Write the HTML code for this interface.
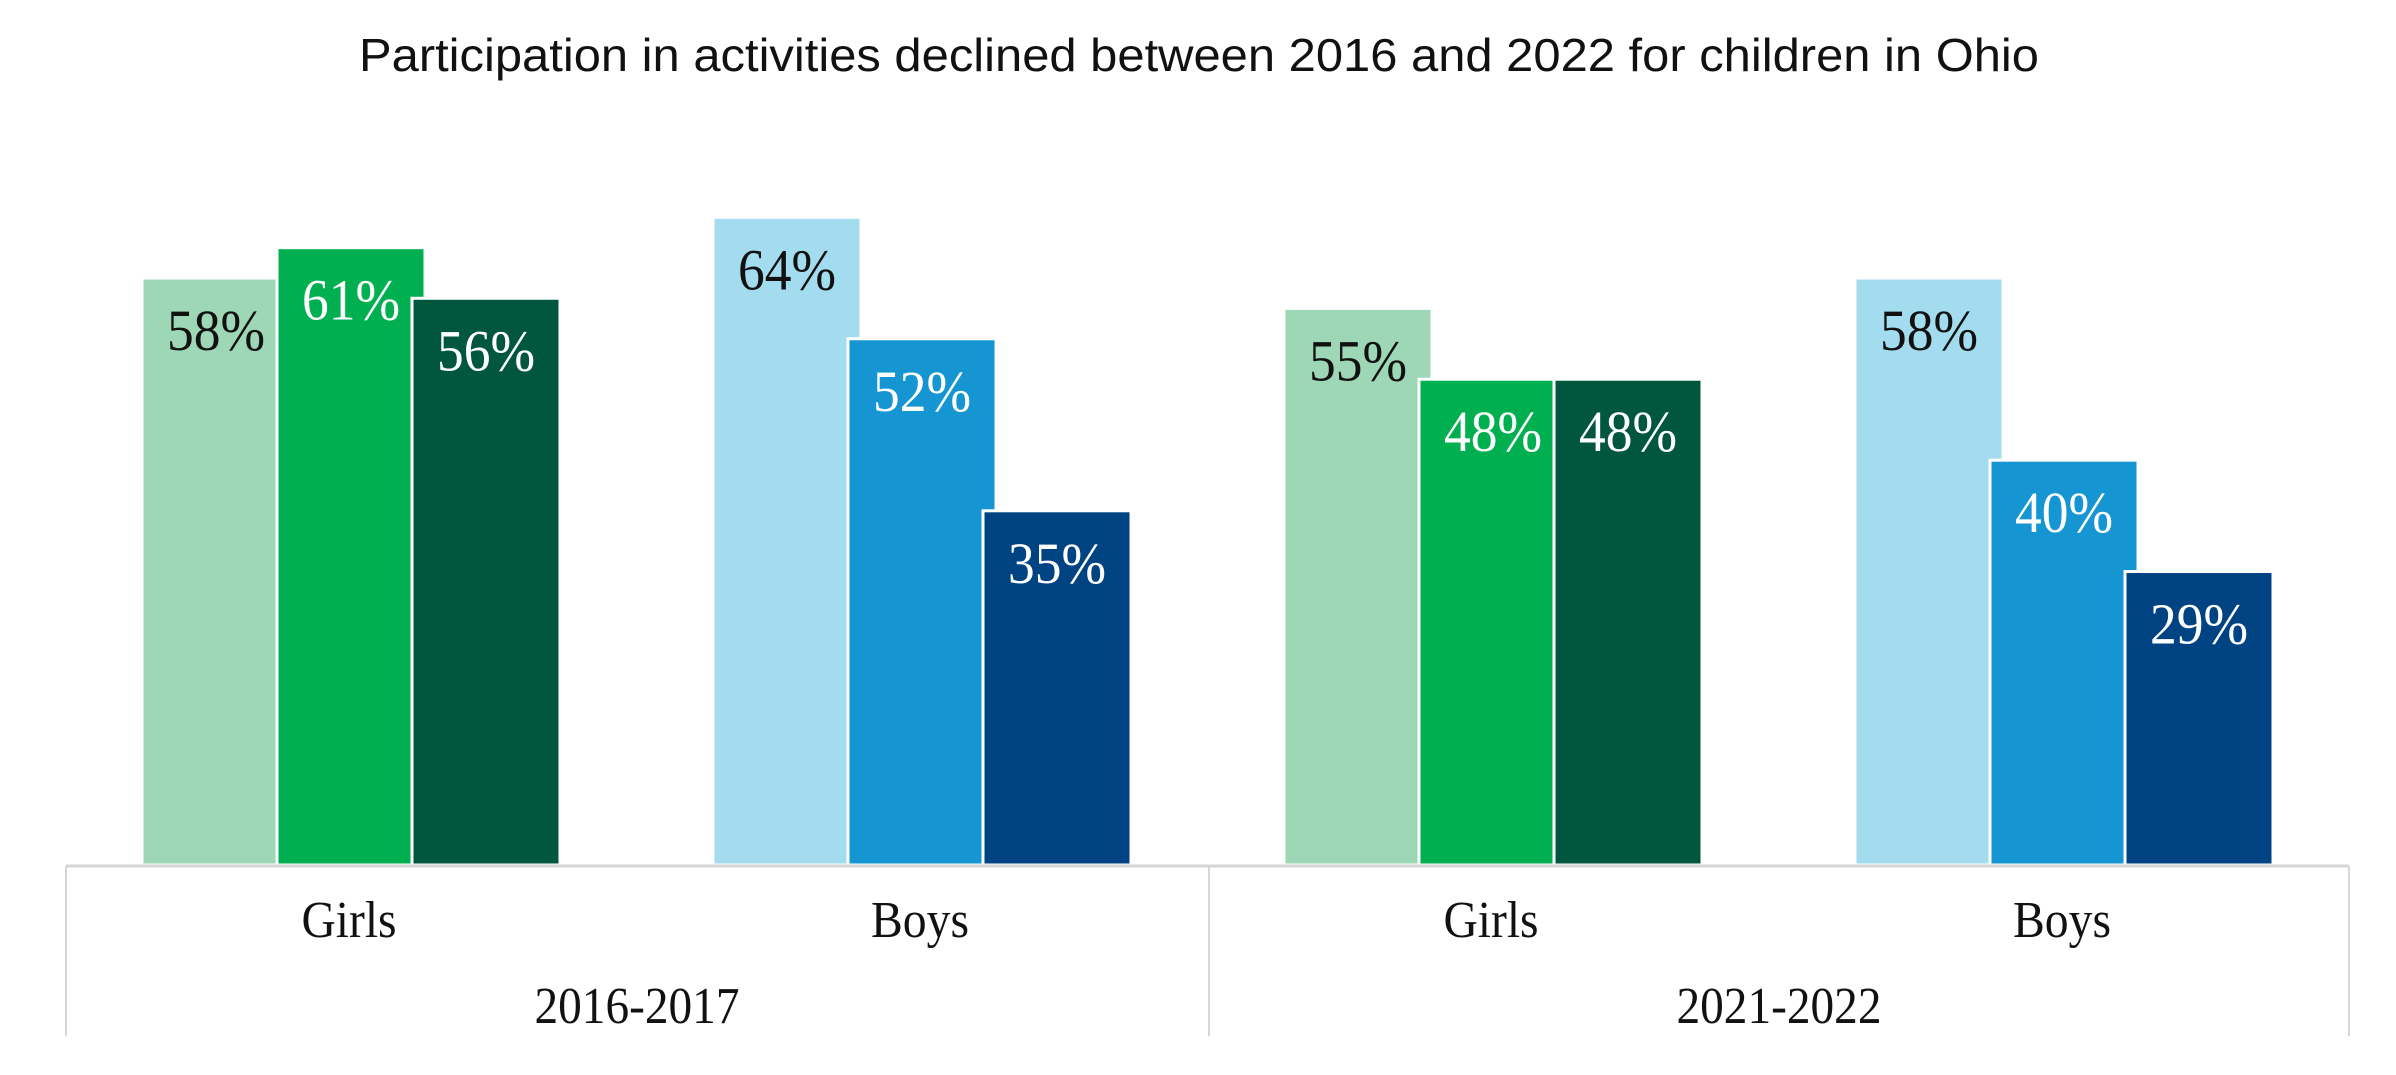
<!DOCTYPE html>
<html><head><meta charset="utf-8"><style>
html,body{margin:0;padding:0;background:#fff;}
svg{display:block;}
</style></head><body>
<svg id="chart" width="2396" height="1075" viewBox="0 0 2396 1075">
<text x="359" y="71" font-family="Liberation Sans, sans-serif" font-size="46" fill="#111" textLength="1680" lengthAdjust="spacingAndGlyphs">Participation in activities declined between 2016 and 2022 for children in Ohio</text>
<g id="bars"></g>
<g id="axis"></g>
</svg>
<script>
const periods = ["2016-2017", "2021-2022"];
const groups = ["Girls", "Boys", "Girls", "Boys"];
const seriesA = [58, 64, 55, 58];
const seriesB = [61, 52, 48, 40];
const seriesC = [56, 35, 48, 29];

const NS = "http://www.w3.org/2000/svg";
const baseY = 865, pxPer = 10.12;
const groupStart = 142, groupStep = 571, barStep = 135, barW = 148;
const greens = ["#9dd7b5", "#00b050", "#00573d"];
const blues = ["#a3dcef", "#1596d3", "#004383"];
const textCols = ["#111", "#fff", "#fff"];
function y(v){ return baseY - v * pxPer; }
function xBar(g, s){ return groupStart + g * groupStep + s * barStep; }
function mk(tag, attrs, parent){ const e = document.createElementNS(NS, tag); for (const k in attrs) e.setAttribute(k, attrs[k]); parent.appendChild(e); return e; }

const barsG = document.getElementById("bars");
const series = [seriesA, seriesB, seriesC];
for (let g = 0; g < groups.length; g++) {
  const cols = groups[g] === "Girls" ? greens : blues;
  for (let s = 0; s < 3; s++) {
    const v = series[s][g];
    const r = mk("rect", {x: xBar(g, s), y: y(v), width: barW, height: baseY - y(v), fill: cols[s], stroke: "#fff", "stroke-width": 3}, barsG);
    
    
  }
  for (let s = 0; s < 3; s++) {
    const v = series[s][g];
    const t = mk("text", {x: xBar(g, s) + barW / 2, y: y(v) + 72, "text-anchor": "middle", "font-family": "Liberation Serif, serif", "font-size": 58, fill: textCols[s], textLength: 98, lengthAdjust: "spacingAndGlyphs"}, barsG);
    t.textContent = v + "%";
    
    
  }
}
const ax = document.getElementById("axis");
const l = mk("line", {x1: 66, x2: 2349, y1: 866, y2: 866, stroke: "#d6d6d6", "stroke-width": 3}, ax);


[66, 1209, 2349].forEach(function(x){
  const d = mk("line", {x1: x, x2: x, y1: 866, y2: 1036, stroke: "#d6d6d6", "stroke-width": 2}, ax);
  
  
});
for (let g = 0; g < groups.length; g++) {
  const t = mk("text", {x: xBar(g, 1) + barW / 2 - 2, y: 937, "text-anchor": "middle", "font-family": "Liberation Serif, serif", "font-size": 52, fill: "#111", textLength: groups[g] === "Girls" ? 95 : 98, lengthAdjust: "spacingAndGlyphs"}, ax);
  t.textContent = groups[g];
  
  
}
for (let p = 0; p < periods.length; p++) {
  const t = mk("text", {x: p === 0 ? 637 : 1779, y: 1023, "text-anchor": "middle", "font-family": "Liberation Serif, serif", "font-size": 52, fill: "#111", textLength: 205, lengthAdjust: "spacingAndGlyphs"}, ax);
  t.textContent = periods[p];
  
  
}
</script>
</body></html>
